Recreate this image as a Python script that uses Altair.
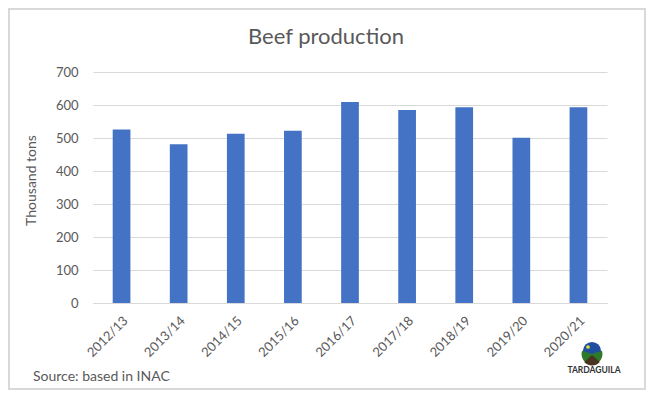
import altair as alt
import pandas as pd

seasons = ["2012/13", "2013/14", "2014/15", "2015/16", "2016/17",
           "2017/18", "2018/19", "2019/20", "2020/21"]
production = [526, 481, 513, 522, 609, 585, 593, 501, 593]
y_ticks = [0, 100, 200, 300, 400, 500, 600, 700]

title_text = "Beef production"
y_title = "Thousand tons"
source_text = "Source: based in INAC"
logo_text = "TARDAGUILA"

FONT = "Lato"
GRAY = "#595959"
W, H = 514, 231

df = pd.DataFrame({"season": seasons, "production": production})
one = pd.DataFrame({"a": [0]})

bars = alt.Chart(df).mark_bar(color="#4472C4").encode(
    x=alt.X("season:N", sort=seasons, title=None,
            scale=alt.Scale(paddingInner=0.69, paddingOuter=0.345),
            axis=alt.Axis(labelAngle=-45, labelFont=FONT, labelFontSize=13,
                          labelColor=GRAY, ticks=False, domainColor="#d9d9d9",
                          domainWidth=1, labelPadding=11)),
    y=alt.Y("production:Q", title=y_title,
            scale=alt.Scale(domain=[0, 700], nice=False),
            axis=alt.Axis(values=y_ticks, labelFont=FONT, labelFontSize=13,
                          labelColor=GRAY, ticks=False, domain=False,
                          gridColor="#d9d9d9", gridWidth=1, labelPadding=15,
                          titleFont=FONT, titleFontSize=14, titleFontWeight="normal",
                          titleColor=GRAY, titleX=-62, titleY=108,
                          titleBaseline="middle")),
)

base = alt.Chart(one)

border = base.mark_rect(fillOpacity=0, stroke="#d9d9d9", strokeWidth=2).encode(
    x=alt.value(-84), x2=alt.value(552), y=alt.value(-63), y2=alt.value(317))

title = base.mark_text(font=FONT, fontSize=22, color=GRAY, align="center",
                       baseline="middle", text=title_text).encode(
    x=alt.value(233), y=alt.value(-35))

source = base.mark_text(font=FONT, fontSize=14, color=GRAY, align="left",
                        baseline="middle", text=source_text).encode(
    x=alt.value(-60), y=alt.value(305))

logo_sky = base.mark_point(filled=True, shape="circle", size=330,
                           color="#1f4e9e", opacity=1).encode(
    x=alt.value(499), y=alt.value(279))
logo_hill = base.mark_arc(color="#2f7a2a", radius=10.5, theta=1.25, theta2=5.03).encode(
    x=alt.value(499), y=alt.value(282))
logo_soil = base.mark_arc(color="#4a3320", radius=10.5, theta=2.3, theta2=3.98).encode(
    x=alt.value(499), y=alt.value(283))
logo_sun = base.mark_point(filled=True, shape="circle", size=14,
                           color="#d8e23a", opacity=1).encode(
    x=alt.value(495), y=alt.value(275))
logo_label = base.mark_text(font=FONT, fontSize=8.5, fontWeight="bold", color="#333333",
                            align="center", baseline="middle", text=logo_text).encode(
    x=alt.value(501), y=alt.value(298))

chart = alt.layer(border, bars, title, source, logo_sky, logo_hill, logo_soil,
                  logo_sun, logo_label).properties(
    width=W, height=H,
    autosize=alt.AutoSizeParams(type="none"),
    padding={"left": 85, "top": 64, "right": 39, "bottom": 87},
    background="white",
).configure_view(stroke=None)

chart.save("out.html", embed_options={"renderer": "svg", "actions": False})
